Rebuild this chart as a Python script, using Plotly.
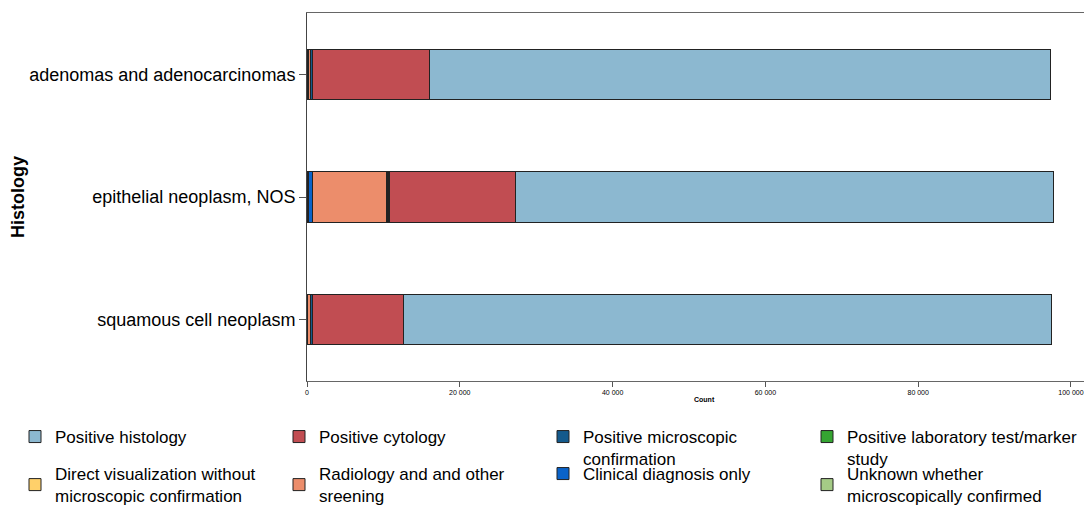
import plotly.graph_objects as go

categories = ["adenomas and adenocarcinomas", "epithelial neoplasm, NOS", "squamous cell neoplasm"]

# stacked left-to-right
unknown = [60, 250, 60]
clinical = [100, 520, 60]
radiology = [250, 9600, 300]
direct_vis = [30, 150, 30]
lab_test = [30, 100, 30]
microscopic = [200, 150, 200]
cytology = [15300, 16500, 12000]
histology = [81400, 70400, 84800]

series = [
    ("Unknown whether<br>microscopically confirmed", unknown, "#A5CB86"),
    ("Clinical diagnosis only", clinical, "#0A63C9"),
    ("Radiology and and other<br>sreening", radiology, "#EC8D6B"),
    ("Direct visualization without<br>microscopic confirmation", direct_vis, "#FFD06A"),
    ("Positive laboratory test/marker<br>study", lab_test, "#35A532"),
    ("Positive microscopic<br>confirmation", microscopic, "#145A8C"),
    ("Positive cytology", cytology, "#C14D52"),
    ("Positive histology", histology, "#8CB8D0"),
]

x_ticks = [0, 20000, 40000, 60000, 80000, 100000]
x_tick_labels = ["0", "20 000", "40 000", "60 000", "80 000", "100 000"]

# the page body adds an 8px offset; layout positions below are in figure pixels
OFF = 8
legend_slots = [
    (819, 1, "middle"),
    (555, 1, "top"),
    (291, 1, "middle"),
    (27, 1, "middle"),
    (819, 0, "top"),
    (555, 0, "top"),
    (291, 0, "top"),
    (27, 0, "top"),
]
row_tops = [411, 448]

W, H = 1092, 505
L, T, B = 307 - OFF, 13 - OFF, 381 - OFF
PW, PH = W - OFF - L, B - T

fig = go.Figure()
legend_layouts = {}
for i, ((name, vals, color), (lx, row, va)) in enumerate(zip(series, legend_slots)):
    key = "legend" if i == 0 else f"legend{i + 1}"
    fig.add_trace(go.Bar(
        y=categories, x=vals, name=name, orientation="h",
        marker=dict(color=color, line=dict(color="#222222", width=1)),
        legend=key,
    ))
    legend_layouts[key] = dict(
        xref="container", yref="container",
        x=(lx - 20) / W, y=1 - row_tops[row] / H,
        xanchor="left", yanchor="top",
        font=dict(size=17, color="black"),
        itemwidth=30, valign=va, bgcolor="rgba(0,0,0,0)",
        borderwidth=0,
    )

fig.update_layout(
    barmode="stack",
    bargap=0.59,
    width=W, height=H,
    margin=dict(l=L, r=OFF, t=T, b=H - B, autoexpand=False),
    paper_bgcolor="white", plot_bgcolor="white",
    font=dict(family="Liberation Sans, Arial, sans-serif", color="black"),
    showlegend=True,
    xaxis=dict(
        range=[0, 102750], tickvals=x_ticks, ticktext=x_tick_labels,
        tickfont=dict(size=7, color="black"), ticks="outside", ticklen=5, tickcolor="#555",
        showline=True, linecolor="#666", linewidth=1, mirror=True,
        showgrid=False, zeroline=False, automargin=False,
    ),
    yaxis=dict(
        categoryorder="array", categoryarray=categories,
        range=[2.5, -0.5],
        tickfont=dict(size=18, color="black"), ticks="outside", ticklen=7, tickcolor="#555",
        showline=True, linecolor="#444", linewidth=1,
        showgrid=False, zeroline=False, automargin=False,
    ),
    annotations=[
        dict(text="<b>Histology</b>", textangle=-90, showarrow=False,
             xref="paper", yref="paper",
             x=(18 - OFF - L) / PW, y=1 - (197 - OFF - T) / PH,
             xanchor="center", yanchor="middle",
             font=dict(size=18, color="black")),
        dict(text="<b>Count</b>", showarrow=False,
             xref="paper", yref="paper",
             x=(704 - OFF - L) / PW, y=1 - (399 - OFF - T) / PH,
             xanchor="center", yanchor="middle",
             font=dict(size=7, color="black")),
    ],
    **legend_layouts,
)

fig.write_html("out.html")
